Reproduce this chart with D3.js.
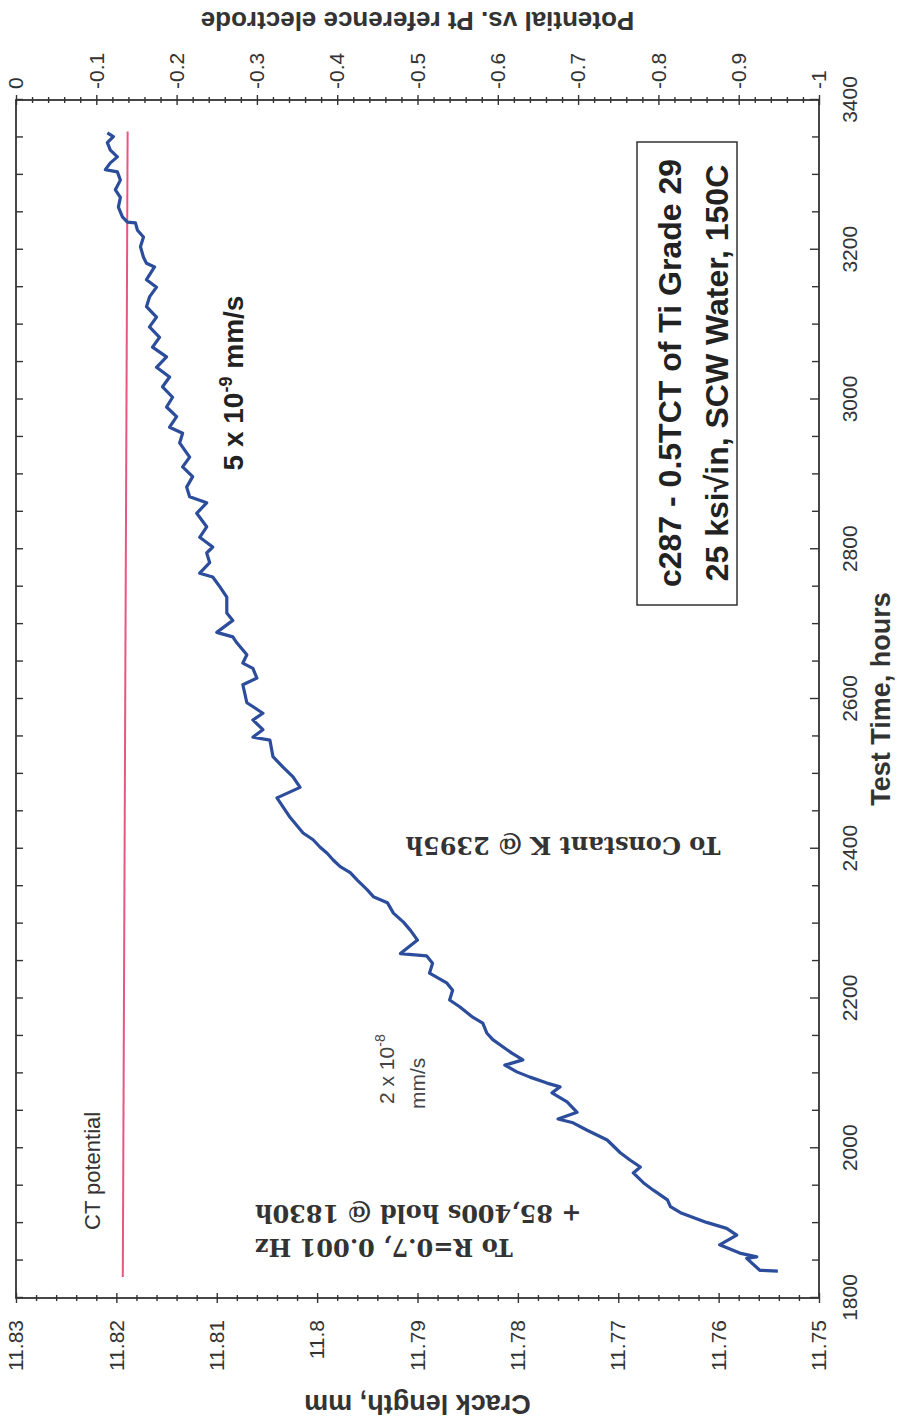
<!DOCTYPE html>
<html>
<head>
<meta charset="utf-8">
<script src="https://cdn.jsdelivr.net/npm/d3@7"></script>
<style>
  body { margin: 0; background: #fff; }
  text { font-family: "Liberation Sans", Arial, sans-serif; }
</style>
</head>
<body>
<div class="canvas"></div>
<script>
// crack length trace (hours, mm)
const testTime = [
  1836, 1837, 1853, 1855, 1860, 1871, 1884, 1893, 1901, 1914, 1922, 1931, 1944, 1954, 1967, 1975,
  1984, 1994, 2011, 2024, 2034, 2039, 2048, 2062, 2074, 2082, 2087, 2095, 2102, 2111, 2118, 2127,
  2145, 2154, 2167, 2175, 2189, 2198, 2211, 2221, 2234, 2247, 2257, 2260, 2278, 2291, 2302, 2314,
  2328, 2336, 2345, 2358, 2368, 2376, 2385, 2394, 2402, 2412, 2421, 2442, 2468, 2482, 2496, 2509,
  2523, 2545, 2549, 2559, 2572, 2581, 2595, 2619, 2628, 2641, 2648, 2659, 2675, 2683, 2689, 2705,
  2715, 2736, 2750, 2763, 2768, 2782, 2795, 2803, 2816, 2830, 2848, 2862, 2870, 2883, 2897, 2910,
  2923, 2942, 2955, 2963, 2977, 2990, 3003, 3017, 3030, 3043, 3057, 3070, 3083, 3097, 3110, 3124,
  3137, 3150, 3160, 3177, 3182, 3190, 3204, 3217, 3226, 3236, 3237, 3244, 3257, 3270, 3280, 3293,
  3304, 3307, 3316, 3324, 3333, 3343, 3351, 3356
];
const crackLength = [
  11.7541, 11.7559, 11.7572, 11.7562, 11.7579, 11.7599, 11.7582, 11.7592, 11.7612, 11.7638, 11.7648, 11.7651, 11.7665, 11.7675, 11.7685, 11.7678,
  11.7688, 11.7698, 11.7711, 11.7731, 11.7745, 11.776, 11.7741, 11.7751, 11.7766, 11.7758, 11.7771, 11.7788, 11.7801, 11.7813, 11.7795, 11.7806,
  11.7825, 11.7831, 11.7835, 11.7845, 11.7858, 11.7868, 11.7865, 11.7871, 11.7888, 11.7885, 11.7891, 11.7917, 11.79, 11.7907, 11.7914, 11.7924,
  11.793, 11.7944, 11.795, 11.796, 11.7967, 11.7977, 11.7984, 11.799, 11.7997, 11.8004, 11.8014, 11.8027, 11.804, 11.8017, 11.8024, 11.8034,
  11.8044, 11.8047, 11.8064, 11.8054, 11.8064, 11.8054, 11.807, 11.8074, 11.806, 11.8064, 11.8074, 11.807, 11.808, 11.8084, 11.81, 11.8084,
  11.809, 11.809, 11.8097, 11.8104, 11.8117, 11.8107, 11.811, 11.8104, 11.8117, 11.811, 11.812, 11.811, 11.8127, 11.813, 11.8124, 11.8134,
  11.8127, 11.8137, 11.8134, 11.8147, 11.814, 11.815, 11.8144, 11.8154, 11.8147, 11.816, 11.815, 11.8164, 11.8157, 11.8167, 11.816, 11.817,
  11.8167, 11.816, 11.817, 11.8162, 11.817, 11.8173, 11.8176, 11.8173, 11.8179, 11.8181, 11.8189, 11.8194, 11.8198, 11.8196, 11.8201, 11.8196,
  11.8199, 11.8211, 11.8206, 11.8199, 11.8206, 11.8209, 11.8203, 11.8209
];

// CT potential line (hours, volts)
const ctTime = [1828, 3358];
const ctPotential = [-0.133, -0.139];

const timeTicks = [1800, 2000, 2200, 2400, 2600, 2800, 3000, 3200, 3400];
const crackTicks = [11.75, 11.76, 11.77, 11.78, 11.79, 11.8, 11.81, 11.82, 11.83];
const potentialTicks = [-1, -0.9, -0.8, -0.7, -0.6, -0.5, -0.4, -0.3, -0.2, -0.1, 0];

const W = 1198; // along time
const H = 803;  // along crack length

const svg = d3
  .select(".canvas")
  .append("svg")
  .attr("width", 905)
  .attr("height", 1426);

// the scan is turned a quarter turn counter-clockwise
const chart = svg.append("g").attr("transform", "translate(16,1298) rotate(-90)");

const x = d3.scaleLinear().domain([1800, 3400]).range([0, W]);
const y = d3.scaleLinear().domain([11.75, 11.83]).range([H, 0]);
const y2 = d3.scaleLinear().domain([-1, 0]).range([H, 0]);

const minorTime = d3.range(1800, 3401, 50).filter((d) => d % 200 !== 0);
const minorCrack = d3.range(0, 41).map((i) => 11.75 + i * 0.002).filter((d, i) => i % 5 !== 0);
const minorPot = d3.range(0, 51).map((i) => -1 + i * 0.02).filter((d, i) => i % 5 !== 0);

const ink = "#333";

function styleAxis(g) {
  g.select(".domain").remove();
  g.selectAll(".tick line").attr("stroke", ink).attr("stroke-width", 1.4);
  g.selectAll(".tick text")
    .attr("fill", ink)
    .style("font-size", "21px")
    .style("font-family", '"Liberation Sans", Arial, sans-serif');
}

// time axis (bottom of the unrotated chart)
chart
  .append("g")
  .attr("transform", `translate(0,${H})`)
  .call(d3.axisBottom(x).tickValues(timeTicks).tickSize(-9).tickPadding(23).tickFormat(d3.format("d")))
  .call(styleAxis);
chart
  .append("g")
  .attr("transform", `translate(0,${H})`)
  .call(d3.axisBottom(x).tickValues(minorTime).tickSize(-7).tickFormat(""))
  .call(styleAxis);
// mirrored ticks on the top edge
chart
  .append("g")
  .call(d3.axisTop(x).tickValues(timeTicks.concat(minorTime)).tickSize(-7).tickFormat(""))
  .call(styleAxis);

// crack length axis (left)
chart
  .append("g")
  .call(d3.axisLeft(y).tickValues(crackTicks).tickSize(5).tickPadding(17).tickFormat((d) => String(+d.toFixed(2))))
  .call(styleAxis)
  .selectAll(".tick line")
  .attr("x1", 5);
chart
  .append("g")
  .call(d3.axisLeft(y).tickValues(minorCrack).tickSize(3).tickFormat(""))
  .call(styleAxis)
  .selectAll(".tick line")
  .attr("x1", 3);

// potential axis (right)
chart
  .append("g")
  .attr("transform", `translate(${W},0)`)
  .call(d3.axisRight(y2).tickValues(potentialTicks).tickSize(5).tickPadding(6).tickFormat((d) => String(+d.toFixed(1))))
  .call(styleAxis)
  .selectAll(".tick line")
  .attr("x1", -5);
chart
  .append("g")
  .attr("transform", `translate(${W},0)`)
  .call(d3.axisRight(y2).tickValues(minorPot).tickSize(3).tickFormat(""))
  .call(styleAxis)
  .selectAll(".tick line")
  .attr("x1", -3);

// frame
chart
  .append("rect")
  .attr("x", 0)
  .attr("y", 0)
  .attr("width", W)
  .attr("height", H)
  .attr("fill", "none")
  .attr("stroke", ink)
  .attr("stroke-width", 1.8);

// CT potential
chart
  .append("path")
  .datum(d3.zip(ctTime, ctPotential))
  .attr("d", d3.line().x((d) => x(d[0])).y((d) => y2(d[1])))
  .attr("fill", "none")
  .attr("stroke", "#e5587f")
  .attr("stroke-width", 2);

// crack length
chart
  .append("path")
  .datum(d3.zip(testTime, crackLength))
  .attr("d", d3.line().x((d) => x(d[0])).y((d) => y(d[1])))
  .attr("fill", "none")
  .attr("stroke", "#2c4c9c")
  .attr("stroke-width", 3.2)
  .attr("stroke-linejoin", "round");

// axis titles
chart
  .append("text")
  .attr("x", W / 2)
  .attr("y", 874)
  .attr("text-anchor", "middle")
  .attr("font-weight", "bold")
  .attr("font-size", 27)
  .attr("fill", ink)
  .text("Test Time, hours");

chart
  .append("text")
  .attr("transform", `translate(-97,${H / 2}) rotate(-90)`)
  .attr("text-anchor", "middle")
  .attr("font-weight", "bold")
  .attr("font-size", 27)
  .attr("fill", ink)
  .text("Crack length, mm");

chart
  .append("text")
  .attr("transform", `translate(1286,${H / 2}) rotate(-90)`)
  .attr("text-anchor", "middle")
  .attr("font-weight", "bold")
  .attr("font-size", 26)
  .attr("fill", ink)
  .text("Potential vs. Pt reference electrode");

// annotations
chart
  .append("text")
  .attr("x", 68)
  .attr("y", 84)
  .attr("font-size", 22)
  .attr("fill", ink)
  .text("CT potential");

const serif = '"DejaVu Serif", "Liberation Serif", serif';
const holdNote = chart.append("g");
holdNote
  .append("text")
  .attr("transform", "translate(59,239) rotate(-90)")
  .attr("text-anchor", "end")
  .attr("font-weight", "bold")
  .attr("font-size", 24)
  .attr("fill", ink)
  .style("font-family", serif)
  .text("To R=0.7, 0.001 Hz");
holdNote
  .append("text")
  .attr("transform", "translate(93,239) rotate(-90)")
  .attr("text-anchor", "end")
  .attr("font-weight", "bold")
  .attr("font-size", 24)
  .attr("fill", ink)
  .style("font-family", serif)
  .text("+ 85,400s hold @ 1830h");

chart
  .append("text")
  .attr("transform", "translate(461,547) rotate(-90)")
  .attr("text-anchor", "middle")
  .attr("font-weight", "bold")
  .attr("font-size", 24)
  .attr("fill", ink)
  .style("font-family", serif)
  .text("To Constant K @ 2395h");

const rate1 = chart
  .append("text")
  .attr("x", 915)
  .attr("y", 227)
  .attr("text-anchor", "middle")
  .attr("font-weight", "bold")
  .attr("font-size", 28)
  .attr("fill", "#222");
rate1.append("tspan").text("5 x 10");
rate1.append("tspan").attr("font-size", 18).attr("dy", -11).text("-9");
rate1.append("tspan").attr("dy", 11).text(" mm/s");

const rate2 = chart.append("g").attr("fill", "#444").attr("font-size", 21);
const rate2a = rate2.append("text").attr("x", 194).attr("y", 378);
rate2a.append("tspan").text("2 x 10");
rate2a.append("tspan").attr("font-size", 14).attr("dy", -9).text("-8");
rate2.append("text").attr("x", 189).attr("y", 409).text("mm/s");

// specimen box
chart
  .append("rect")
  .attr("x", 693)
  .attr("y", 621)
  .attr("width", 463)
  .attr("height", 100)
  .attr("fill", "#fff")
  .attr("stroke", ink)
  .attr("stroke-width", 1.5);
chart
  .append("text")
  .attr("x", 925)
  .attr("y", 665)
  .attr("text-anchor", "middle")
  .attr("font-weight", "bold")
  .attr("font-size", 32)
  .attr("fill", "#222")
  .text("c287 - 0.5TCT of Ti Grade 29");
chart
  .append("text")
  .attr("x", 925)
  .attr("y", 712)
  .attr("text-anchor", "middle")
  .attr("font-weight", "bold")
  .attr("font-size", 32)
  .attr("fill", "#222")
  .text("25 ksi\u221Ain, SCW Water, 150C");
</script>
</body>
</html>
